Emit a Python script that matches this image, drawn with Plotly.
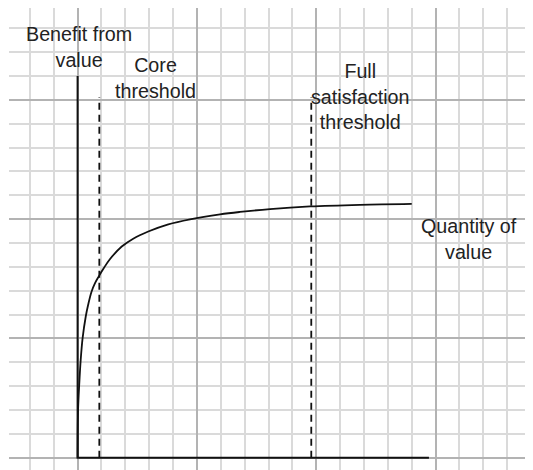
import plotly.graph_objects as go

# Benefit curve (grid-cell units: x = quantity of value, y = benefit)
curve_x = [0.0, 0.02, 0.07, 0.13, 0.21, 0.34, 0.44, 0.58, 0.73, 0.90, 1.10, 1.36, 1.85, 2.33, 2.96, 3.80, 4.71, 5.97, 6.80, 8.06, 9.74, 11.83, 14.0]
curve_y = [0.0, 2.00, 3.10, 4.10, 5.01, 5.91, 6.40, 6.95, 7.32, 7.62, 7.95, 8.33, 8.85, 9.18, 9.48, 9.78, 9.99, 10.20, 10.30, 10.42, 10.53, 10.60, 10.64]

# Axes extents
axis_x = [0.0, 0.0, 14.72]
axis_y = [16.0, 0.0, 0.0]

# Thresholds
core_x = 0.91
full_x = 9.79
threshold_top = 15.11

labels = ["Benefit from<br>value", "Core<br>threshold", "Full<br>satisfaction<br>threshold", "Quantity of<br>value"]
label_x = [0.04, 3.28, 11.85, 16.40]
label_y = [17.23, 15.93, 15.13, 9.18]

fig = go.Figure()

for tx in [core_x, full_x]:
    fig.add_trace(go.Scatter(x=[tx, tx], y=[0, threshold_top], mode="lines",
                             line=dict(color="#111111", width=1.8, dash="7px,5px"),
                             hoverinfo="skip", showlegend=False))

fig.add_trace(go.Scatter(x=axis_x, y=axis_y, mode="lines",
                         line=dict(color="#111111", width=2),
                         hoverinfo="skip", showlegend=False))

fig.add_trace(go.Scatter(x=curve_x, y=curve_y, mode="lines",
                         line=dict(color="#111111", width=1.8, shape="spline", smoothing=1.0),
                         hoverinfo="skip", showlegend=False))

for t, x, y in zip(labels, label_x, label_y):
    fig.add_annotation(x=x, y=y, text=t, showarrow=False, xanchor="center", yanchor="middle",
                       font=dict(family="Liberation Sans, Arial, sans-serif", size=19.7, color="#222222"))

grid_common = dict(showticklabels=False, ticks="", zeroline=False, showline=False,
                   tick0=0, dtick=5, showgrid=True, gridcolor="#b3b3b3", gridwidth=1.5,
                   minor=dict(tick0=0, dtick=1, showgrid=True, gridcolor="#dadada", gridwidth=1.5))

fig.update_layout(
    width=525, height=462,
    margin=dict(l=1, r=0, t=0, b=0),
    paper_bgcolor="white", plot_bgcolor="white",
    xaxis=dict(range=[-2.874, 19.08], fixedrange=True, **grid_common),
    yaxis=dict(range=[-0.511, 18.844], fixedrange=True, **grid_common),
)

fig.write_html("out.html")
